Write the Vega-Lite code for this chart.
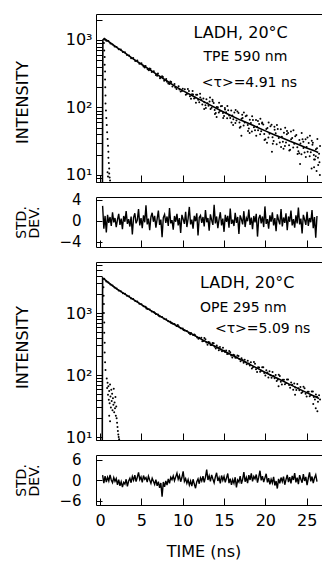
{
"$schema": "https://vega.github.io/schema/vega-lite/v6.json",
"background": "white",
"padding": {"left": 13, "top": 11, "right": 0, "bottom": 0},
"config": {"font": "DejaVu Sans", "view": {"stroke": "black", "strokeWidth": 1}, "axis": {"domain": false, "grid": false, "tickColor": "black", "labelColor": "black", "titleColor": "black", "titleFontWeight": "normal", "labelFont": "DejaVu Sans", "titleFont": "DejaVu Sans", "labelOverlap": false}},
"datasets": {
"fit1": [{"t":0.28,"v":7.9},{"t":0.33,"v":1000},{"t":0.5,"v":1050},{"t":1,"v":955},{"t":2,"v":776},{"t":3,"v":646},{"t":4,"v":525},{"t":5,"v":437},{"t":6,"v":363},{"t":7,"v":302},{"t":8,"v":251},{"t":9,"v":209},{"t":10,"v":178},{"t":11,"v":153},{"t":12,"v":132},{"t":13,"v":114},{"t":14,"v":98},{"t":15,"v":85},{"t":16,"v":74},{"t":17,"v":65},{"t":18,"v":58},{"t":19,"v":51},{"t":20,"v":45},{"t":21,"v":39.8},{"t":22,"v":35.5},{"t":23,"v":31.6},{"t":24,"v":28.2},{"t":25,"v":25.1},{"t":26,"v":22.6},{"t":26.4,"v":21.6}],
"lamp1": [{"t":0.45,"v":900},{"t":0.5,"v":700},{"t":0.55,"v":560},{"t":0.55,"v":430},{"t":0.6,"v":340},{"t":0.6,"v":260},{"t":0.62,"v":200},{"t":0.65,"v":150},{"t":0.65,"v":115},{"t":0.7,"v":90},{"t":0.75,"v":70},{"t":0.8,"v":55},{"t":0.85,"v":43},{"t":0.9,"v":34},{"t":0.95,"v":27},{"t":1.0,"v":22},{"t":1.0,"v":18},{"t":1.05,"v":15},{"t":1.1,"v":12.5},{"t":1.1,"v":10.5},{"t":1.15,"v":9.2},{"t":1.2,"v":8.3},{"t":0.9,"v":11},{"t":0.95,"v":9.5}],
"scat1": [{"t":0.6,"v":1010},{"t":0.75,"v":975},{"t":1.0,"v":968},{"t":1.25,"v":890},{"t":1.5,"v":860},{"t":1.75,"v":800},{"t":2.0,"v":790},{"t":2.25,"v":728},{"t":2.5,"v":720},{"t":2.75,"v":665},{"t":3.0,"v":660},{"t":3.25,"v":598},{"t":3.5,"v":590},{"t":3.75,"v":538},{"t":4.0,"v":540},{"t":4.25,"v":488},{"t":4.5,"v":495},{"t":4.75,"v":445},{"t":5.0,"v":452},{"t":5.25,"v":405},{"t":5.5,"v":412},{"t":5.75,"v":368},{"t":6.0,"v":378},{"t":6.25,"v":335},{"t":6.5,"v":345},{"t":6.75,"v":302},{"t":7.0,"v":318},{"t":7.25,"v":272},{"t":7.5,"v":290},{"t":7.75,"v":250},{"t":8.0,"v":265},{"t":8.25,"v":226},{"t":8.5,"v":243},{"t":8.75,"v":205},{"t":9.0,"v":222},{"t":9.25,"v":188},{"t":9.5,"v":207},{"t":9.75,"v":172},{"t":10.0,"v":190},
{"t":5.4,"v":390},{"t":6.1,"v":372},{"t":6.9,"v":296},{"t":7.6,"v":282},{"t":8.1,"v":240},{"t":8.6,"v":238},{"t":9.1,"v":198},{"t":9.6,"v":185},{"t":9.9,"v":175},{"t":5.9,"v":355},{"t":7.3,"v":280},{"t":8.4,"v":222},
{"t":10.25,"v":187},{"t":10.37,"v":154},{"t":10.5,"v":159},{"t":10.62,"v":188},{"t":10.75,"v":176},{"t":10.87,"v":147},{"t":11.0,"v":135},{"t":11.12,"v":157},{"t":11.25,"v":156},{"t":11.37,"v":136},{"t":11.5,"v":139},{"t":11.62,"v":155},{"t":11.75,"v":155},{"t":11.87,"v":130},{"t":12.0,"v":120},{"t":12.12,"v":141},{"t":12.25,"v":131},{"t":12.37,"v":111},{"t":12.5,"v":136},{"t":12.62,"v":120},{"t":12.75,"v":108},{"t":12.87,"v":132},{"t":13.0,"v":116},{"t":13.12,"v":106},{"t":13.25,"v":123},{"t":13.37,"v":95},{"t":13.5,"v":99},{"t":13.62,"v":124},{"t":13.75,"v":117},{"t":13.87,"v":92},{"t":14.0,"v":83},{"t":14.12,"v":102},{"t":14.25,"v":101},{"t":14.37,"v":84},{"t":14.5,"v":89},{"t":14.62,"v":104},{"t":14.75,"v":105},{"t":14.87,"v":83},{"t":15.0,"v":75},{"t":15.12,"v":93},{"t":15.25,"v":85},{"t":15.37,"v":69},{"t":15.5,"v":91},{"t":15.62,"v":76},{"t":15.75,"v":70},{"t":15.87,"v":90},{"t":16.0,"v":76},{"t":16.12,"v":67},{"t":16.25,"v":84},{"t":16.37,"v":59},{"t":16.5,"v":64},{"t":16.62,"v":87},{"t":16.75,"v":83},{"t":16.87,"v":60},{"t":17.0,"v":52},{"t":17.12,"v":68},{"t":17.25,"v":70},{"t":17.37,"v":54},{"t":17.5,"v":60},{"t":17.62,"v":74},{"t":17.75,"v":76},{"t":17.87,"v":55},{"t":18.0,"v":49},{"t":18.12,"v":66},{"t":18.25,"v":59},{"t":18.37,"v":44},{"t":18.5,"v":65},{"t":18.62,"v":51},{"t":18.75,"v":46},{"t":18.87,"v":65},{"t":19.0,"v":52},{"t":19.12,"v":46},{"t":19.25,"v":57},{"t":19.37,"v":40},{"t":19.5,"v":44.5},{"t":19.62,"v":60},{"t":19.75,"v":56},{"t":19.87,"v":40.5},{"t":20.0,"v":33.7},{"t":20.12,"v":48},{"t":20.25,"v":49.6},{"t":20.37,"v":35.9},{"t":20.5,"v":40.9},{"t":20.62,"v":52.9},{"t":20.75,"v":55.3},{"t":20.87,"v":36.3},{"t":21.0,"v":31.8},{"t":21.12,"v":46.8},{"t":21.25,"v":41.5},{"t":21.37,"v":28.6},{"t":21.5,"v":47.9},{"t":21.62,"v":35.3},{"t":21.75,"v":30.4},{"t":21.87,"v":47.7},{"t":22.0,"v":36.7},{"t":22.12,"v":31.2},{"t":22.25,"v":42.1},{"t":22.37,"v":26.8},{"t":22.5,"v":30.4},{"t":22.62,"v":44.8},{"t":22.75,"v":41.9},{"t":22.87,"v":27.6},{"t":23.0,"v":23.6},{"t":23.12,"v":33.7},{"t":23.25,"v":35.2},{"t":23.37,"v":25.5},{"t":23.5,"v":28.9},{"t":23.62,"v":37.5},{"t":23.75,"v":39.1},{"t":23.87,"v":25.7},{"t":24.0,"v":22.5},{"t":24.12,"v":33.1},{"t":24.25,"v":29.3},{"t":24.37,"v":20.2},{"t":24.5,"v":33.9},{"t":24.62,"v":25.0},{"t":24.75,"v":21.5},{"t":24.87,"v":33.8},{"t":25.0,"v":25.9},{"t":25.12,"v":22.1},{"t":25.25,"v":29.7},{"t":25.37,"v":18.9},{"t":25.5,"v":21.8},{"t":25.62,"v":32.1},{"t":25.75,"v":30.0},{"t":25.87,"v":19.7},{"t":26.0,"v":16.9},{"t":26.12,"v":24.1},{"t":26.25,"v":24.9},{"t":26.37,"v":18.0},{"t":26.5,"v":20.7},{"t":26.62,"v":26.8},
{"t":25.9,"v":13},{"t":26.2,"v":11.5},{"t":26.4,"v":14},{"t":25.6,"v":12.5},{"t":26.6,"v":10},{"t":24.2,"v":14.5},{"t":20.8,"v":22},{"t":17.1,"v":38},{"t":12.6,"v":95},
{"t":11.2,"v":175},{"t":11.6,"v":118},{"t":12.1,"v":160},{"t":12.8,"v":98},{"t":13.3,"v":140},{"t":13.9,"v":80},{"t":14.4,"v":118},{"t":14.9,"v":70},{"t":15.4,"v":105},{"t":15.9,"v":60},{"t":16.4,"v":92},{"t":16.9,"v":50},{"t":17.4,"v":84},{"t":17.9,"v":45},{"t":18.4,"v":74},{"t":18.9,"v":38},{"t":19.4,"v":68},{"t":19.9,"v":33},{"t":20.4,"v":60},{"t":20.9,"v":29},{"t":21.4,"v":55},{"t":21.9,"v":26},{"t":22.4,"v":50},{"t":22.9,"v":23},{"t":23.4,"v":46},{"t":23.9,"v":20.5},{"t":24.4,"v":42},{"t":24.9,"v":18.5},{"t":25.4,"v":38},{"t":25.9,"v":17},{"t":26.3,"v":34},{"t":26.55,"v":15.5},{"t":15.1,"v":98},{"t":16.1,"v":55},{"t":17.2,"v":78},{"t":18.1,"v":42},{"t":19.1,"v":63},{"t":20.2,"v":30},{"t":21.1,"v":52},{"t":22.2,"v":24.5},{"t":23.1,"v":44},{"t":24.1,"v":21},{"t":25.1,"v":36},{"t":26.1,"v":19},{"t":13.6,"v":130},{"t":14.1,"v":72},{"t":19.6,"v":58},{"t":22.6,"v":40},{"t":24.6,"v":31},{"t":25.7,"v":28}],
"res1": [{"t":0.3,"r":2.8},{"t":0.45,"r":-1.5},{"t":0.6,"r":0.9},{"t":0.75,"r":-2.2},{"t":0.9,"r":1.1},{"t":1.05,"r":-0.4},{"t":1.2,"r":0.7},{"t":1.35,"r":-1.0},{"t":1.5,"r":1.6},{"t":1.65,"r":-0.3},{"t":1.8,"r":0.5},{"t":1.95,"r":-1.2},{"t":2.1,"r":0.2},{"t":2.25,"r":1.3},{"t":2.4,"r":-0.8},{"t":2.55,"r":0.4},{"t":2.7,"r":-1.6},{"t":2.85,"r":0.9},{"t":3.0,"r":-0.2},{"t":3.15,"r":1.8},{"t":3.3,"r":-0.6},{"t":3.45,"r":0.3},{"t":3.6,"r":-1.1},{"t":3.75,"r":0.8},{"t":3.9,"r":-2.6},{"t":4.05,"r":0.6},{"t":4.2,"r":1.4},{"t":4.35,"r":-0.5},{"t":4.5,"r":0.1},{"t":4.65,"r":2.2},{"t":4.8,"r":-0.9},{"t":4.95,"r":0.5},{"t":5.1,"r":-1.4},{"t":5.25,"r":1.0},{"t":5.4,"r":-0.3},{"t":5.55,"r":2.9},{"t":5.7,"r":-0.7},{"t":5.85,"r":0.4},{"t":6.0,"r":-1.8},{"t":6.15,"r":0.7},{"t":6.3,"r":1.5},{"t":6.45,"r":-0.2},{"t":6.6,"r":0.9},{"t":6.75,"r":-1.3},{"t":6.9,"r":0.3},{"t":7.05,"r":1.9},{"t":7.2,"r":-0.8},{"t":7.35,"r":0.2},{"t":7.5,"r":-3.1},{"t":7.65,"r":0.6},{"t":7.8,"r":1.2},{"t":7.95,"r":-0.4},{"t":8.1,"r":0.8},{"t":8.25,"r":-1.0},{"t":8.4,"r":2.4},{"t":8.55,"r":-0.5},{"t":8.7,"r":0.1},{"t":8.85,"r":-1.7},{"t":9.0,"r":0.9},{"t":9.15,"r":-0.2},{"t":9.3,"r":1.3},{"t":9.45,"r":-0.9},{"t":9.6,"r":0.5},{"t":9.75,"r":-2.3},{"t":9.9,"r":1.1},{"t":10.05,"r":0.3},{"t":10.2,"r":-0.6},{"t":10.35,"r":1.7},{"t":10.5,"r":-1.2},{"t":10.65,"r":0.4},{"t":10.8,"r":2.6},{"t":10.95,"r":-0.7},{"t":11.1,"r":0.2},{"t":11.25,"r":-1.5},{"t":11.4,"r":0.9},{"t":11.55,"r":-0.1},{"t":11.7,"r":1.4},{"t":11.85,"r":-2.8},{"t":12.0,"r":0.6},{"t":12.15,"r":1.0},{"t":12.3,"r":-0.4},{"t":12.45,"r":0.7},{"t":12.6,"r":-1.1},{"t":12.75,"r":2.0},{"t":12.9,"r":-0.3},{"t":13.05,"r":0.5},{"t":13.2,"r":-1.9},{"t":13.35,"r":1.2},{"t":13.5,"r":0.1},{"t":13.65,"r":-0.8},{"t":13.8,"r":3.0},{"t":13.95,"r":-0.5},{"t":14.1,"r":0.8},{"t":14.25,"r":-1.4},{"t":14.4,"r":0.3},{"t":14.55,"r":1.6},{"t":14.7,"r":-0.9},{"t":14.85,"r":0.4},{"t":15.0,"r":-2.1},{"t":15.15,"r":1.1},{"t":15.3,"r":-0.2},{"t":15.45,"r":0.9},{"t":15.6,"r":-1.3},{"t":15.75,"r":2.3},{"t":15.9,"r":-0.6},{"t":16.05,"r":0.2},{"t":16.2,"r":-1.0},{"t":16.35,"r":1.5},{"t":16.5,"r":-0.4},{"t":16.65,"r":0.7},{"t":16.8,"r":-2.5},{"t":16.95,"r":1.0},{"t":17.1,"r":0.3},{"t":17.25,"r":-0.7},{"t":17.4,"r":1.8},{"t":17.55,"r":-1.2},{"t":17.7,"r":0.5},{"t":17.85,"r":-0.1},{"t":18.0,"r":2.1},{"t":18.15,"r":-0.8},{"t":18.3,"r":0.6},{"t":18.45,"r":-1.6},{"t":18.6,"r":0.9},{"t":18.75,"r":-0.3},{"t":18.9,"r":1.3},{"t":19.05,"r":-3.0},{"t":19.2,"r":0.4},{"t":19.35,"r":1.1},{"t":19.5,"r":-0.5},{"t":19.65,"r":0.8},{"t":19.8,"r":-1.2},{"t":19.95,"r":2.7},{"t":20.1,"r":-0.6},{"t":20.25,"r":0.3},{"t":20.4,"r":-1.5},{"t":20.55,"r":1.0},{"t":20.7,"r":-0.2},{"t":20.85,"r":1.6},{"t":21.0,"r":-0.9},{"t":21.15,"r":0.5},{"t":21.3,"r":-2.0},{"t":21.45,"r":1.2},{"t":21.6,"r":0.1},{"t":21.75,"r":-0.7},{"t":21.9,"r":2.2},{"t":22.05,"r":-1.1},{"t":22.2,"r":0.6},{"t":22.35,"r":-0.4},{"t":22.5,"r":1.4},{"t":22.65,"r":-1.8},{"t":22.8,"r":0.8},{"t":22.95,"r":-0.2},{"t":23.1,"r":1.9},{"t":23.25,"r":-0.9},{"t":23.4,"r":0.3},{"t":23.55,"r":-1.3},{"t":23.7,"r":1.0},{"t":23.85,"r":-0.5},{"t":24.0,"r":2.5},{"t":24.15,"r":-0.7},{"t":24.3,"r":0.4},{"t":24.45,"r":-2.4},{"t":24.6,"r":1.1},{"t":24.75,"r":0.2},{"t":24.9,"r":-0.8},{"t":25.05,"r":1.7},{"t":25.2,"r":-1.0},{"t":25.35,"r":0.5},{"t":25.5,"r":-0.3},{"t":25.65,"r":2.0},{"t":25.8,"r":-1.4},{"t":25.95,"r":0.7},{"t":26.1,"r":-3.2},{"t":26.25,"r":0.9}],
"fit3": [{"t":0.26,"v":8.95},{"t":0.3,"v":3670},{"t":0.5,"v":3508},{"t":1,"v":3090},{"t":2,"v":2455},{"t":3,"v":2018},{"t":4,"v":1660},{"t":5,"v":1365},{"t":6,"v":1122},{"t":7,"v":933},{"t":8,"v":776},{"t":9,"v":653},{"t":10,"v":550},{"t":11,"v":466},{"t":12,"v":394},{"t":13,"v":335},{"t":14,"v":285},{"t":15,"v":244},{"t":16,"v":209},{"t":17,"v":178},{"t":18,"v":151},{"t":19,"v":129},{"t":20,"v":110},{"t":21,"v":94.4},{"t":22,"v":81.3},{"t":23,"v":70},{"t":24,"v":60.3},{"t":25,"v":52},{"t":26,"v":44.9},{"t":26.5,"v":41.7}],
"lamp3": [{"t":0.4,"v":2600},{"t":0.42,"v":1900},{"t":0.45,"v":1400},{"t":0.45,"v":1000},{"t":0.5,"v":700},{"t":0.5,"v":480},{"t":0.55,"v":330},{"t":0.55,"v":230},{"t":0.6,"v":160},{"t":0.65,"v":120},{"t":0.8,"v":88},{"t":0.85,"v":62},{"t":0.9,"v":75},{"t":0.95,"v":48},{"t":1.0,"v":66},{"t":1.05,"v":40},{"t":1.1,"v":55},{"t":1.15,"v":35},{"t":1.2,"v":70},{"t":1.25,"v":45},{"t":1.3,"v":30},{"t":1.35,"v":58},{"t":1.4,"v":38},{"t":1.45,"v":50},{"t":1.5,"v":27},{"t":1.55,"v":42},{"t":1.6,"v":33},{"t":1.65,"v":60},{"t":1.7,"v":25},{"t":1.75,"v":36},{"t":1.8,"v":29},{"t":1.85,"v":44},{"t":1.9,"v":22},{"t":1.95,"v":31},{"t":1.1,"v":22},{"t":1.2,"v":18},{"t":2.0,"v":20},{"t":2.05,"v":17},{"t":2.1,"v":14.5},{"t":2.15,"v":12.5},{"t":2.2,"v":11},{"t":2.25,"v":10},{"t":2.3,"v":9.2}],
"scat3": [{"t":0.5,"v":3560},{"t":0.75,"v":3230},{"t":1.0,"v":3120},{"t":1.25,"v":2880},{"t":1.5,"v":2790},{"t":1.75,"v":2570},{"t":2.0,"v":2490},{"t":2.25,"v":2310},{"t":2.5,"v":2250},{"t":2.75,"v":2090},{"t":3.0,"v":2050},{"t":3.25,"v":1900},{"t":3.5,"v":1860},{"t":3.75,"v":1720},{"t":4.0,"v":1690},{"t":4.25,"v":1560},{"t":4.5,"v":1530},{"t":4.75,"v":1410},{"t":5.0,"v":1390},{"t":5.25,"v":1280},{"t":5.5,"v":1260},{"t":5.75,"v":1160},{"t":6.0,"v":1140},{"t":6.25,"v":1060},{"t":6.5,"v":1040},{"t":6.75,"v":965},{"t":7.0,"v":950},{"t":7.25,"v":880},{"t":7.5,"v":865},{"t":7.75,"v":805},{"t":8.0,"v":790},{"t":8.25,"v":735},{"t":8.5,"v":725},{"t":8.75,"v":675},{"t":9.0,"v":665},{"t":9.25,"v":618},{"t":9.5,"v":610},{"t":9.75,"v":566},{"t":10.0,"v":562},{"t":10.25,"v":520},{"t":10.5,"v":515},{"t":10.75,"v":478},{"t":11.0,"v":474},{"t":11.25,"v":440},{"t":11.5,"v":437},{"t":11.75,"v":404},{"t":12.0,"v":400},
{"t":7.1,"v":905},{"t":8.6,"v":690},{"t":9.4,"v":640},{"t":10.1,"v":530},{"t":10.9,"v":455},{"t":11.4,"v":452},{"t":11.9,"v":385},{"t":6.6,"v":1010},{"t":5.6,"v":1180},
{"t":12.25,"v":400},{"t":12.37,"v":351},{"t":12.5,"v":353},{"t":12.62,"v":394},{"t":12.75,"v":376},{"t":12.87,"v":333},{"t":13.0,"v":308},{"t":13.12,"v":341},{"t":13.25,"v":334},{"t":13.37,"v":305},{"t":13.5,"v":306},{"t":13.62,"v":329},{"t":13.75,"v":324},{"t":13.87,"v":287},{"t":14.0,"v":267},{"t":14.12,"v":298},{"t":14.25,"v":279},{"t":14.37,"v":251},{"t":14.5,"v":283},{"t":14.62,"v":259},{"t":14.75,"v":242},{"t":14.87,"v":275},{"t":15.0,"v":246},{"t":15.12,"v":236},{"t":15.25,"v":248},{"t":15.37,"v":218},{"t":15.5,"v":220},{"t":15.62,"v":245},{"t":15.75,"v":233},{"t":15.87,"v":207},{"t":16.0,"v":192},{"t":16.12,"v":213},{"t":16.25,"v":209},{"t":16.37,"v":190},{"t":16.5,"v":191},{"t":16.62,"v":206},{"t":16.75,"v":202},{"t":16.87,"v":179},{"t":17.0,"v":167},{"t":17.12,"v":186},{"t":17.25,"v":174},{"t":17.37,"v":157},{"t":17.5,"v":176},{"t":17.62,"v":161},{"t":17.75,"v":149},{"t":17.87,"v":170},{"t":18.0,"v":153},{"t":18.12,"v":142},{"t":18.25,"v":160},{"t":18.37,"v":127},{"t":18.5,"v":133},{"t":18.62,"v":162},{"t":18.75,"v":152},{"t":18.87,"v":124},{"t":19.0,"v":112},{"t":19.12,"v":133},{"t":19.25,"v":132},{"t":19.37,"v":113},{"t":19.5,"v":117},{"t":19.62,"v":133},{"t":19.75,"v":133},{"t":19.87,"v":108},{"t":20.0,"v":98},{"t":20.12,"v":119},{"t":20.25,"v":110},{"t":20.37,"v":91},{"t":20.5,"v":115},{"t":20.62,"v":99},{"t":20.75,"v":90},{"t":20.87,"v":112},{"t":21.0,"v":96},{"t":21.12,"v":88.5},{"t":21.25,"v":100},{"t":21.37,"v":80},{"t":21.5,"v":83.6},{"t":21.62,"v":101},{"t":21.75,"v":96},{"t":21.87,"v":78},{"t":22.0,"v":70.3},{"t":22.12,"v":84},{"t":22.25,"v":83.5},{"t":22.37,"v":71.1},{"t":22.5,"v":74.3},{"t":22.62,"v":84.5},{"t":22.75,"v":84.7},{"t":22.87,"v":68.7},{"t":23.0,"v":62.5},{"t":23.12,"v":75.9},{"t":23.25,"v":69.7},{"t":23.37,"v":57.9},{"t":23.5,"v":73.3},{"t":23.62,"v":62.9},{"t":23.75,"v":57.3},{"t":23.87,"v":71.8},{"t":24.0,"v":61.3},{"t":24.12,"v":56.6},{"t":24.25,"v":64},{"t":24.37,"v":51.1},{"t":24.5,"v":53.4},{"t":24.62,"v":64.7},{"t":24.75,"v":61.4},{"t":24.87,"v":49.8},{"t":25.0,"v":45},{"t":25.12,"v":53.7},{"t":25.25,"v":53.5},{"t":25.37,"v":45.5},{"t":25.5,"v":47.5},{"t":25.62,"v":54},{"t":25.75,"v":54.3},{"t":25.87,"v":44},{"t":26.0,"v":40.1},{"t":26.12,"v":48.7},{"t":26.25,"v":44.7},{"t":26.37,"v":37.2},{"t":26.5,"v":47},{"t":26.62,"v":40.4},
{"t":26.3,"v":26},{"t":26.1,"v":29},{"t":25.8,"v":34},{"t":23.6,"v":48},{"t":21.6,"v":66}],
"res2": [{"t":0.3,"r":1.5},{"t":0.45,"r":-0.8},{"t":0.6,"r":1.2},{"t":0.75,"r":-0.5},{"t":0.9,"r":0.9},{"t":1.05,"r":-0.2},{"t":1.2,"r":1.6},{"t":1.35,"r":0.1},{"t":1.5,"r":-0.7},{"t":1.65,"r":0.8},{"t":1.8,"r":-0.3},{"t":1.95,"r":0.5},{"t":2.1,"r":-1.3},{"t":2.25,"r":0.2},{"t":2.4,"r":-1.6},{"t":2.55,"r":-0.4},{"t":2.7,"r":-2.0},{"t":2.85,"r":-0.6},{"t":3.0,"r":-1.1},{"t":3.15,"r":0.3},{"t":3.3,"r":-1.8},{"t":3.45,"r":-0.2},{"t":3.6,"r":0.6},{"t":3.75,"r":-0.7},{"t":3.9,"r":1.1},{"t":4.05,"r":0.0},{"t":4.2,"r":1.5},{"t":4.35,"r":-0.4},{"t":4.5,"r":0.9},{"t":4.65,"r":2.3},{"t":4.8,"r":0.2},{"t":4.95,"r":1.0},{"t":5.1,"r":-0.6},{"t":5.25,"r":1.4},{"t":5.4,"r":0.3},{"t":5.55,"r":0.8},{"t":5.7,"r":-0.5},{"t":5.85,"r":1.2},{"t":6.0,"r":0.1},{"t":6.15,"r":-0.9},{"t":6.3,"r":0.6},{"t":6.45,"r":-0.3},{"t":6.6,"r":-1.2},{"t":6.75,"r":0.2},{"t":6.9,"r":-1.6},{"t":7.05,"r":-0.4},{"t":7.2,"r":-2.2},{"t":7.35,"r":-0.8},{"t":7.5,"r":-4.8},{"t":7.65,"r":-0.5},{"t":7.8,"r":-1.9},{"t":7.95,"r":-0.2},{"t":8.1,"r":-1.4},{"t":8.25,"r":0.4},{"t":8.4,"r":-0.9},{"t":8.55,"r":0.9},{"t":8.7,"r":0.2},{"t":8.85,"r":1.3},{"t":9.0,"r":-0.1},{"t":9.15,"r":1.0},{"t":9.3,"r":2.1},{"t":9.45,"r":0.3},{"t":9.6,"r":1.4},{"t":9.75,"r":-0.4},{"t":9.9,"r":0.8},{"t":10.05,"r":2.6},{"t":10.2,"r":-0.3},{"t":10.35,"r":0.5},{"t":10.5,"r":-0.9},{"t":10.65,"r":0.2},{"t":10.8,"r":-1.4},{"t":10.95,"r":-0.2},{"t":11.1,"r":-1.7},{"t":11.25,"r":0.3},{"t":11.4,"r":-1.1},{"t":11.55,"r":-2.3},{"t":11.7,"r":-0.4},{"t":11.85,"r":0.4},{"t":12.0,"r":-1.0},{"t":12.15,"r":0.7},{"t":12.3,"r":-0.2},{"t":12.45,"r":1.2},{"t":12.6,"r":-0.6},{"t":12.75,"r":0.9},{"t":12.9,"r":3.1},{"t":13.05,"r":0.1},{"t":13.2,"r":1.3},{"t":13.35,"r":-0.3},{"t":13.5,"r":1.6},{"t":13.65,"r":0.4},{"t":13.8,"r":-0.7},{"t":13.95,"r":1.0},{"t":14.1,"r":2.2},{"t":14.25,"r":-0.2},{"t":14.4,"r":0.8},{"t":14.55,"r":-0.9},{"t":14.7,"r":1.4},{"t":14.85,"r":0.0},{"t":15.0,"r":1.1},{"t":15.15,"r":-0.6},{"t":15.3,"r":0.7},{"t":15.45,"r":2.0},{"t":15.6,"r":-0.8},{"t":15.75,"r":0.5},{"t":15.9,"r":-1.3},{"t":16.05,"r":0.2},{"t":16.2,"r":-0.9},{"t":16.35,"r":0.9},{"t":16.5,"r":-2.1},{"t":16.65,"r":0.1},{"t":16.8,"r":-0.5},{"t":16.95,"r":1.2},{"t":17.1,"r":-1.0},{"t":17.25,"r":0.3},{"t":17.4,"r":2.4},{"t":17.55,"r":-0.4},{"t":17.7,"r":0.8},{"t":17.85,"r":-0.8},{"t":18.0,"r":1.5},{"t":18.15,"r":0.1},{"t":18.3,"r":2.0},{"t":18.45,"r":-0.3},{"t":18.6,"r":1.1},{"t":18.75,"r":0.4},{"t":18.9,"r":1.7},{"t":19.05,"r":-0.7},{"t":19.2,"r":0.9},{"t":19.35,"r":2.8},{"t":19.5,"r":0.0},{"t":19.65,"r":1.2},{"t":19.8,"r":-0.5},{"t":19.95,"r":0.7},{"t":20.1,"r":1.9},{"t":20.25,"r":-0.6},{"t":20.4,"r":0.6},{"t":20.55,"r":-1.2},{"t":20.7,"r":0.3},{"t":20.85,"r":-0.8},{"t":21.0,"r":1.0},{"t":21.15,"r":-1.5},{"t":21.3,"r":-0.2},{"t":21.45,"r":-2.4},{"t":21.6,"r":0.4},{"t":21.75,"r":-0.9},{"t":21.9,"r":0.8},{"t":22.05,"r":-0.4},{"t":22.2,"r":1.1},{"t":22.35,"r":-1.3},{"t":22.5,"r":0.2},{"t":22.65,"r":1.6},{"t":22.8,"r":-0.5},{"t":22.95,"r":0.9},{"t":23.1,"r":-0.9},{"t":23.25,"r":1.3},{"t":23.4,"r":0.1},{"t":23.55,"r":2.1},{"t":23.7,"r":-0.6},{"t":23.85,"r":0.8},{"t":24.0,"r":-1.1},{"t":24.15,"r":1.5},{"t":24.3,"r":0.3},{"t":24.45,"r":-0.7},{"t":24.6,"r":1.8},{"t":24.75,"r":-0.2},{"t":24.9,"r":1.0},{"t":25.05,"r":-1.4},{"t":25.2,"r":0.6},{"t":25.35,"r":2.3},{"t":25.5,"r":-0.3},{"t":25.65,"r":1.1},{"t":25.8,"r":-0.8},{"t":25.95,"r":0.7},{"t":26.1,"r":1.6},{"t":26.25,"r":-0.4}]
},
"bounds": "flush",
"spacing": 15,
"vconcat": [
 {"width": 228, "height": 168,
  "layer": [
   {"data": {"name": "scat1"}, "mark": {"type": "circle", "size": 4, "color": "black", "opacity": 1, "clip": true},
    "encoding": {
     "x": {"field": "t", "type": "quantitative", "scale": {"domain": [-0.5, 27.1], "nice": false, "zero": false}, "axis": {"title": null, "labels": false, "values": [0,5,10,15,20,25], "tickSize": -7}},
     "y": {"field": "v", "type": "quantitative", "scale": {"type": "log", "domain": [7.87, 2427], "nice": false}, "axis": {"title": "INTENSITY", "titleFontSize": 16, "titleX": -66, "titleY": 88, "values": [8,9,10,20,30,40,50,60,70,80,90,100,200,300,400,500,600,700,800,900,1000,2000], "labelExpr": "datum.value == 10 ? '10¹' : datum.value == 100 ? '10²' : datum.value == 1000 ? '10³' : ''", "tickSize": -6, "labelPadding": 10, "labelFontSize": 16}}
    }},
   {"data": {"name": "lamp1"}, "mark": {"type": "circle", "size": 4, "color": "black", "opacity": 1, "clip": true},
    "encoding": {"x": {"field": "t", "type": "quantitative"}, "y": {"field": "v", "type": "quantitative"}}},
   {"data": {"name": "fit1"}, "mark": {"type": "line", "color": "black", "strokeWidth": 1.6, "clip": true},
    "encoding": {"x": {"field": "t", "type": "quantitative"}, "y": {"field": "v", "type": "quantitative"}}},
   {"data": {"values": [{"label": "LADH, 20°C"}]}, "mark": {"type": "text", "align": "left", "baseline": "alphabetic", "fontSize": 16, "color": "black"}, "encoding": {"x": {"datum": 11.3, "type": "quantitative"}, "y": {"datum": 1060, "type": "quantitative"}, "text": {"field": "label"}}},
   {"data": {"values": [{"label": "TPE 590 nm"}]}, "mark": {"type": "text", "align": "left", "baseline": "alphabetic", "fontSize": 14, "color": "black"}, "encoding": {"x": {"datum": 12.5, "type": "quantitative"}, "y": {"datum": 489, "type": "quantitative"}, "text": {"field": "label"}}},
   {"data": {"values": [{"label": "<τ>=4.91 ns"}]}, "mark": {"type": "text", "align": "left", "baseline": "alphabetic", "fontSize": 14, "color": "black"}, "encoding": {"x": {"datum": 12.3, "type": "quantitative"}, "y": {"datum": 199, "type": "quantitative"}, "text": {"field": "label"}}}
  ]
 },
 {"width": 228, "height": 50,
  "data": {"name": "res1"},
  "mark": {"type": "line", "color": "black", "strokeWidth": 1.4, "clip": true},
  "encoding": {
   "x": {"field": "t", "type": "quantitative", "scale": {"domain": [-0.5, 27.1], "nice": false, "zero": false}, "axis": {"title": null, "labels": false, "values": [0,5,10,15,20,25], "tickSize": -7}},
   "y": {"field": "r", "type": "quantitative", "scale": {"domain": [-4.97, 4.48], "nice": false, "zero": false}, "axis": {"title": ["STD.", "DEV."], "titleFontSize": 14, "titleLineHeight": 13, "titleX": -68, "values": [-4,0,4], "tickSize": -6, "labelPadding": 21, "labelFontSize": 15}}
  }
 },
 {"width": 228, "height": 178,
  "layer": [
   {"data": {"name": "scat3"}, "mark": {"type": "circle", "size": 4, "color": "black", "opacity": 1, "clip": true},
    "encoding": {
     "x": {"field": "t", "type": "quantitative", "scale": {"domain": [-0.5, 27.1], "nice": false, "zero": false}, "axis": {"title": null, "labels": false, "values": [0,5,10,15,20,25], "tickSize": -7}},
     "y": {"field": "v", "type": "quantitative", "scale": {"type": "log", "domain": [8.95, 6650], "nice": false}, "axis": {"title": "INTENSITY", "titleFontSize": 16, "titleX": -66, "titleY": 85, "values": [9,10,20,30,40,50,60,70,80,90,100,200,300,400,500,600,700,800,900,1000,2000,3000,4000,5000,6000], "labelExpr": "datum.value == 10 ? '10¹' : datum.value == 100 ? '10²' : datum.value == 1000 ? '10³' : ''", "tickSize": -6, "labelPadding": 10, "labelFontSize": 16}}
    }},
   {"data": {"name": "lamp3"}, "mark": {"type": "circle", "size": 4, "color": "black", "opacity": 1, "clip": true},
    "encoding": {"x": {"field": "t", "type": "quantitative"}, "y": {"field": "v", "type": "quantitative"}}},
   {"data": {"name": "fit3"}, "mark": {"type": "line", "color": "black", "strokeWidth": 1.6, "clip": true},
    "encoding": {"x": {"field": "t", "type": "quantitative"}, "y": {"field": "v", "type": "quantitative"}}},
   {"data": {"values": [{"label": "LADH, 20°C"}]}, "mark": {"type": "text", "align": "left", "baseline": "alphabetic", "fontSize": 16, "color": "black"}, "encoding": {"x": {"datum": 12.1, "type": "quantitative"}, "y": {"datum": 2530, "type": "quantitative"}, "text": {"field": "label"}}},
   {"data": {"values": [{"label": "OPE 295 nm"}]}, "mark": {"type": "text", "align": "left", "baseline": "alphabetic", "fontSize": 14, "color": "black"}, "encoding": {"x": {"datum": 12.1, "type": "quantitative"}, "y": {"datum": 1050, "type": "quantitative"}, "text": {"field": "label"}}},
   {"data": {"values": [{"label": "<τ>=5.09 ns"}]}, "mark": {"type": "text", "align": "left", "baseline": "alphabetic", "fontSize": 14, "color": "black"}, "encoding": {"x": {"datum": 13.9, "type": "quantitative"}, "y": {"datum": 476, "type": "quantitative"}, "text": {"field": "label"}}}
  ]
 },
 {"width": 228, "height": 50,
  "data": {"name": "res2"},
  "mark": {"type": "line", "color": "black", "strokeWidth": 1.4, "clip": true},
  "encoding": {
   "x": {"field": "t", "type": "quantitative", "scale": {"domain": [-0.5, 27.1], "nice": false, "zero": false}, "axis": {"title": "TIME (ns)", "titleFontSize": 16, "titleX": 107.5, "titleY": 51, "titleBaseline": "alphabetic", "titleAlign": "center", "values": [0,5,10,15,20,25], "tickSize": -7, "labelPadding": 14.7, "labelFontSize": 16, "labelFlush": false}},
   "y": {"field": "r", "type": "quantitative", "scale": {"domain": [-7.22, 7.4], "nice": false, "zero": false}, "axis": {"title": ["STD.", "DEV."], "titleFontSize": 14, "titleLineHeight": 13, "titleX": -68, "values": [-6,0,6], "tickSize": -6, "labelPadding": 21, "labelFontSize": 15}}
  }
 }
]
}
